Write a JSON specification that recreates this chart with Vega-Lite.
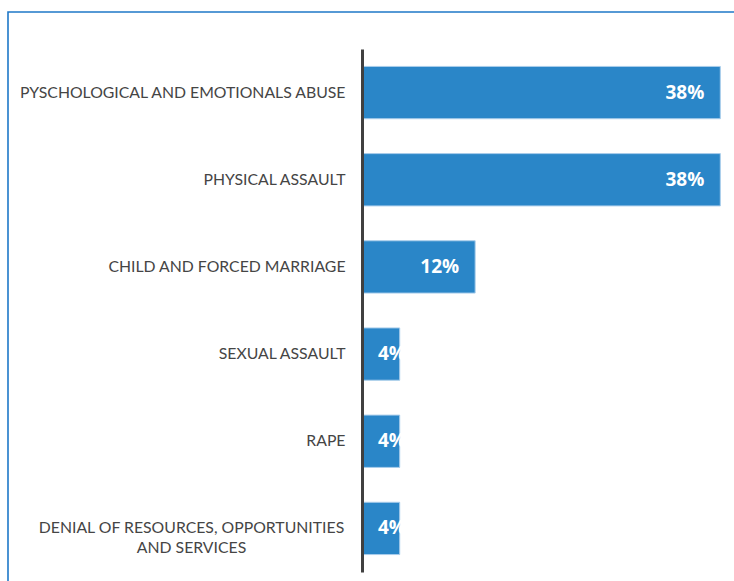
{
  "$schema": "https://vega.github.io/schema/vega-lite/v6.json",
  "autosize": "none",
  "width": 728,
  "height": 571,
  "padding": {"left": 8, "top": 12, "right": -2, "bottom": -2},
  "background": "white",
  "config": {"view": {"stroke": "#1f78c8", "strokeWidth": 1.6}},
  "data": {"values": [
    {"category": "PYSCHOLOGICAL AND EMOTIONALS ABUSE", "value": 38, "label": "38%"},
    {"category": "PHYSICAL ASSAULT", "value": 38, "label": "38%"},
    {"category": "CHILD AND FORCED MARRIAGE", "value": 12, "label": "12%"},
    {"category": "SEXUAL ASSAULT\u00a0", "value": 4, "label": "4%"},
    {"category": "RAPE", "value": 4, "label": "4%"},
    {"category": "DENIAL OF RESOURCES, OPPORTUNITIES|AND SERVICES", "value": 4, "label": "4%"}
  ]},
  "encoding": {
    "y": {
      "field": "category", "type": "nominal", "sort": null,
      "scale": {"range": [37, 560], "paddingInner": 0.4, "paddingOuter": 0.2},
      "axis": {
        "title": null, "orient": "left", "offset": -354, "zindex": 1,
        "ticks": false, "tickSize": 0,
        "labelPadding": {"condition": {"test": "indexof(datum.value, '|') >= 0", "value": 171}, "value": 17},
        "labelAlign": {"condition": {"test": "indexof(datum.value, '|') >= 0", "value": "center"}, "value": "right"},
        "domainColor": "#404040", "domainWidth": 3,
        "labelFont": "Lato", "labelFontSize": 15.8, "labelColor": "#454545",
        "labelLineHeight": 20, "labelLimit": 400,
        "labelExpr": "split(datum.label, '|')"
      }
    }
  },
  "layer": [
    {
      "mark": {"type": "bar", "color": "#2a86c8", "stroke": "#a9cdeb", "strokeWidth": 1},
      "encoding": {
        "x": {"field": "value", "type": "quantitative", "scale": {"domain": [0, 38], "range": [354, 712.3], "nice": false, "zero": false}, "axis": null},
        "x2": {"datum": 0}
      }
    },
    {
      "transform": [{"filter": "datum.value >= 10"}],
      "mark": {"type": "text", "align": "right", "baseline": "middle", "dx": -16, "color": "white", "font": "Open Sans", "fontWeight": "bold", "fontSize": 19},
      "encoding": {
        "x": {"field": "value", "type": "quantitative"},
        "text": {"field": "label"}
      }
    },
    {
      "transform": [{"filter": "datum.value < 10"}],
      "mark": {"type": "text", "align": "left", "baseline": "middle", "dx": 16, "color": "white", "font": "Open Sans", "fontWeight": "bold", "fontSize": 19},
      "encoding": {
        "x": {"datum": 0, "type": "quantitative"},
        "text": {"field": "label"}
      }
    }
  ]
}
